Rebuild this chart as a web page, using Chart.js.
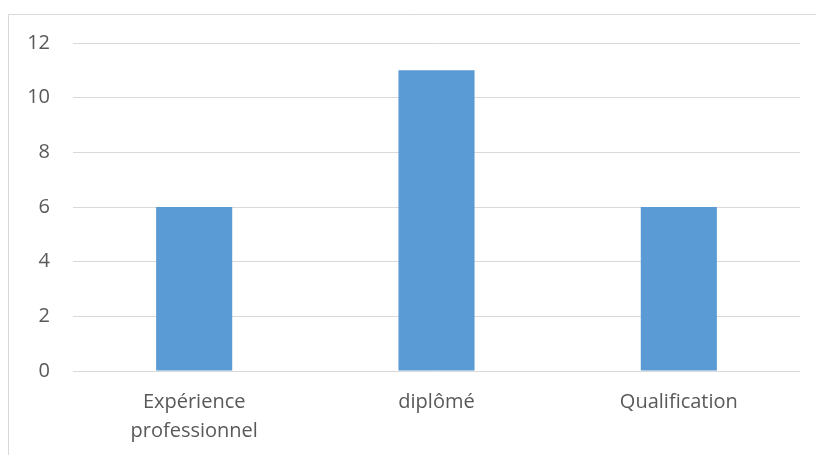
<!DOCTYPE html>
<html>
<head>
<meta charset="utf-8">
<script src="https://cdn.jsdelivr.net/npm/chart.js@4/dist/chart.umd.min.js"></script>
<style>
html,body{margin:0;padding:0;background:#fff;}
#wrap{position:relative;width:816px;height:455px;}
</style>
</head>
<body>
<div id="wrap"><canvas id="c" width="816" height="455"></canvas></div>
<script>
const categories = [["Expérience", "professionnel"], "diplômé", "Qualification"];
const values = [6, 11, 6];
const yTicks = [0, 2, 4, 6, 8, 10, 12];

const frame = {
  id: 'frame',
  beforeDraw(chart) {
    const ctx = chart.ctx;
    ctx.save();
    ctx.strokeStyle = '#d9d9d9';
    ctx.lineWidth = 1;
    ctx.beginPath();
    ctx.moveTo(8.5, 460);
    ctx.lineTo(8.5, 14.5);
    ctx.lineTo(820, 14.5);
    ctx.stroke();
    ctx.restore();
  }
};

new Chart(document.getElementById('c'), {
  type: 'bar',
  data: {
    labels: categories,
    datasets: [{
      data: values,
      backgroundColor: '#5B9BD5',
      borderWidth: 0,
      categoryPercentage: 1,
      barPercentage: 0.314
    }]
  },
  options: {
    responsive: false,
    animation: false,
    layout: { padding: { left: 0, right: 16, top: 43, bottom: 0 } },
    plugins: { legend: { display: false }, tooltip: { enabled: false } },
    scales: {
      x: {
        grid: { display: false, drawTicks: false },
        border: { display: false },
        ticks: {
          color: '#595959',
          font: { family: 'Open Sans', size: 20, lineHeight: 1.45 },
          padding: 17,
          maxRotation: 0
        },
        afterFit(s) { s.height = 455 - 371; }
      },
      y: {
        min: 0, max: 12,
        afterBuildTicks(s) { s.ticks = yTicks.map(v => ({ value: v })); },
        grid: { color: '#d9d9d9', lineWidth: 1, drawTicks: false },
        border: { display: false },
        ticks: {
          color: '#595959',
          font: { family: 'Open Sans', size: 20 },
          padding: 23
        },
        afterFit(s) { s.width = 73; }
      }
    }
  },
  plugins: [frame]
});
</script>
</body>
</html>
